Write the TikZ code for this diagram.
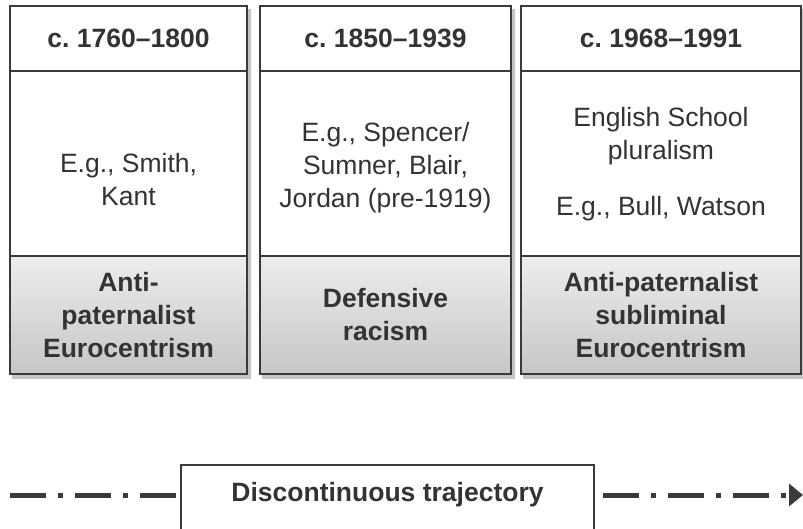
\documentclass[tikz,border=0pt]{standalone}
\usepackage{fontspec}
\setmainfont{Liberation Sans}
\usetikzlibrary{arrows.meta,calc,backgrounds}
\frenchspacing
\definecolor{ink}{HTML}{333333}
\definecolor{edge}{HTML}{3A3A3A}
\definecolor{gtop}{HTML}{EDEDED}
\definecolor{gbot}{HTML}{C6C6C6}
\definecolor{shad}{HTML}{C4C4C4}
\tikzset{
  cell/.style={draw=edge, line width=2.6pt, rectangle, inner sep=0pt, align=center,
    text=ink, fill=white, font=\fontsize{26.5}{33}\selectfont},
  headcell/.style={cell, minimum height=65pt, font=\bfseries\fontsize{26.5}{33}\selectfont},
  midcell/.style={cell, minimum height=185pt},
  basecell/.style={cell, minimum height=118pt, top color=gtop, bottom color=gbot,
    font=\bfseries\fontsize{26.5}{33}\selectfont},
  plaintext/.style={text=ink, align=center, font=\fontsize{26.5}{33}\selectfont},
  trajbox/.style={rectangle, inner sep=0pt, minimum width=413pt, minimum height=60pt,
    text=ink, font=\bfseries\fontsize{26.5}{30}\selectfont},
  trajedge/.style={draw=edge, line width=1.6pt},
  dashdot/.style={draw=edge, line width=5pt,
    dash pattern=on 36pt off 12pt on 5pt off 12pt},
}
\begin{document}
\begin{tikzpicture}[x=1pt,y=-1pt]
\useasboundingbox (0,0) rectangle (803,529);
% column 1
\node[headcell, minimum width=237pt] (h1) at (128.5,38.5) {c. 1760--1800};
\node[midcell, minimum width=237pt] (m1) at (128.5,163.5) {};
\node[basecell, minimum width=237pt] (b1) at (128.5,315) {Anti-\\paternalist\\Eurocentrism};
\node[plaintext] (t1) at (128.5,180) {E.g., Smith,\\Kant};
% column 2
\node[headcell, minimum width=251pt] (h2) at (385.5,38.5) {c. 1850--1939};
\node[midcell, minimum width=251pt] (m2) at (385.5,163.5) {};
\node[basecell, minimum width=251pt] (b2) at (385.5,315) {Defensive\\racism};
\node[plaintext] (t2) at (385.5,168) {E.g., Spencer/\\Sumner, Blair,\\Jordan (pre-1919)};
% column 3
\node[headcell, minimum width=280pt] (h3) at (661,38.5) {c. 1968--1991};
\node[midcell, minimum width=280pt] (m3) at (661,163.5) {};
\node[basecell, minimum width=280pt] (b3) at (661,315) {Anti-paternalist\\subliminal\\Eurocentrism};
\node[plaintext] (t3a) at (661,136) {English School\\pluralism};
\node[plaintext] (t3b) at (661,209) {E.g., Bull, Watson};
% shadows
\begin{scope}[on background layer]
  \foreach \c in {1,2,3}{
    \fill[shad] ($(h\c.north west)+(3,4)$) rectangle ($(b\c.south east)+(3,4)$);
  }
\end{scope}
% trajectory
\node[trajbox] (traj) at (387.5,495) {Discontinuous trajectory};
\draw[trajedge] ($(traj.south west)+(0,40)$) -- (traj.north west) -- (traj.north east) -- ($(traj.south east)+(0,40)$);
\coordinate (start) at (10,495);
\coordinate (finish) at (803,495);
\draw[dashdot] (start) -- ($(traj.west)+(-3,0)$);
\draw[dashdot, -{Triangle[length=14pt,width=22pt]}] ($(traj.east)+(9,0)$) -- (finish);
\end{tikzpicture}
\end{document}
